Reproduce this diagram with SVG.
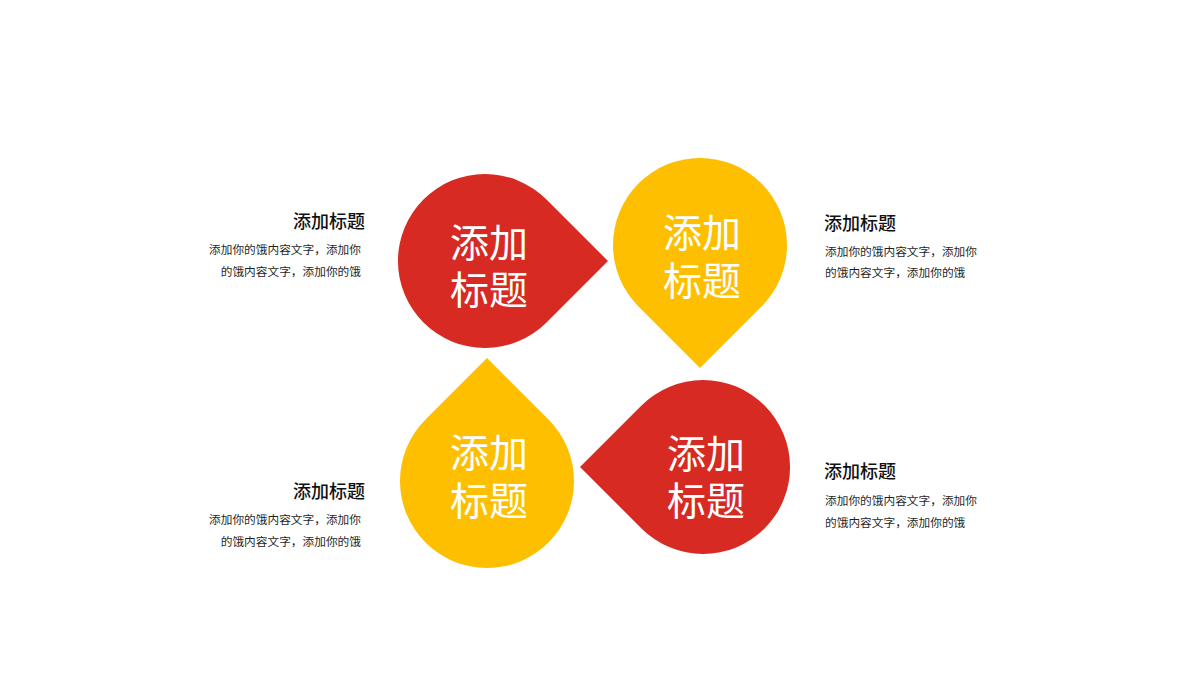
<svg xmlns="http://www.w3.org/2000/svg" width="1200" height="676" viewBox="0 0 1200 676">
<style>
.red{fill:#D62A22}
.yel{fill:#FDBF00}
.big{font-family:"Noto Sans CJK SC","Noto Sans",sans-serif;font-size:39px;fill:#ffffff;text-anchor:middle}
.ttl{font-family:"Noto Sans CJK SC","Noto Sans",sans-serif;font-size:18px;font-weight:500;fill:#111111}
.body{font-family:"Noto Sans CJK SC","Noto Sans",sans-serif;font-size:11.7px;fill:#1f1f1f}
.r{text-anchor:end}
</style>
<rect width="1200" height="676" fill="#ffffff"/>
<g id="node-tl">
<path class="red" d="M608 261 L546.5 199.5 A87 87 0 1 0 546.5 322.5 Z"/>
<text class="big"><tspan x="489" y="257">添加</tspan><tspan x="489" y="304">标题</tspan></text>
</g>
<g id="node-tr">
<path class="yel" d="M700 368 L761.5 306.5 A87 87 0 1 0 638.5 306.5 Z"/>
<text class="big"><tspan x="702" y="247">添加</tspan><tspan x="702" y="295">标题</tspan></text>
</g>
<g id="node-bl">
<path class="yel" d="M487 358 L425.5 419.5 A87 87 0 1 0 548.5 419.5 Z"/>
<text class="big"><tspan x="489" y="467">添加</tspan><tspan x="489" y="515">标题</tspan></text>
</g>
<g id="node-br">
<path class="red" d="M580 467 L641.5 528.5 A87 87 0 1 0 641.5 405.5 Z"/>
<text class="big"><tspan x="706" y="468">添加</tspan><tspan x="706" y="515">标题</tspan></text>
</g>
<g id="text-tl">
<text class="ttl r" x="365" y="228">添加标题</text>
<text class="body r" x="361" y="254">添加你的饿内容文字，添加你</text>
<text class="body r" x="361" y="276">的饿内容文字，添加你的饿</text>
</g>
<g id="text-tr">
<text class="ttl" x="824" y="230">添加标题</text>
<text class="body" x="825" y="256">添加你的饿内容文字，添加你</text>
<text class="body" x="825" y="277">的饿内容文字，添加你的饿</text>
</g>
<g id="text-bl">
<text class="ttl r" x="365" y="498">添加标题</text>
<text class="body r" x="361" y="524">添加你的饿内容文字，添加你</text>
<text class="body r" x="361" y="546">的饿内容文字，添加你的饿</text>
</g>
<g id="text-br">
<text class="ttl" x="824" y="478">添加标题</text>
<text class="body" x="825" y="505">添加你的饿内容文字，添加你</text>
<text class="body" x="825" y="527">的饿内容文字，添加你的饿</text>
</g>
<g id="connectors"></g>
</svg>
